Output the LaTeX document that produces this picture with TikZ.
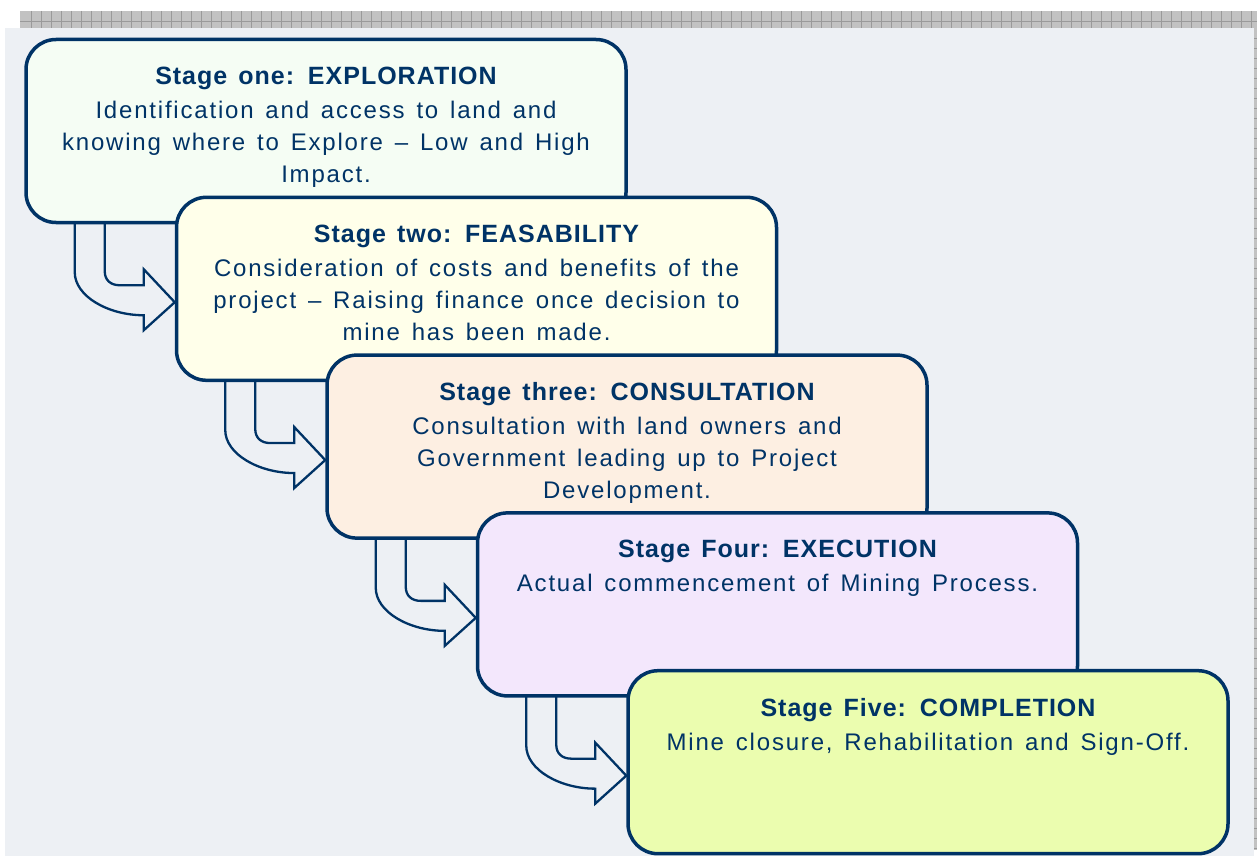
\documentclass[tikz,border=0pt]{standalone}
\usepackage{fontspec}
\setmainfont[LetterSpace=7.5,WordSpace=1.4]{Liberation Sans}
\usetikzlibrary{calc}
\definecolor{navy}{HTML}{003366}
\definecolor{panelc}{HTML}{EDF0F4}
\definecolor{hatchc}{HTML}{C2C2C2}
\definecolor{hatchl}{HTML}{9A9A9A}
\definecolor{fillone}{HTML}{F5FDF4}
\definecolor{filltwo}{HTML}{FFFFEA}
\definecolor{fillthree}{HTML}{FDEFE2}
\definecolor{fillfour}{HTML}{F3E7FC}
\definecolor{fillfive}{HTML}{EBFDAF}
\pgfdeclarelayer{bg}
\pgfdeclarelayer{arrowlayer}
\pgfsetlayers{bg,arrowlayer,main}
\tikzset{
  stagebox/.style={draw=navy, line width=3.5pt, rounded corners=30pt,
    minimum width=600pt, minimum height=183pt, inner sep=0pt},
  stagetext/.style={text=navy, align=center, inner sep=0pt, anchor=north,
    font=\fontsize{24}{32}\selectfont},
  titlefont/.style={},
  bentarrow/.style={draw=navy, line width=2.3pt, fill=panelc, line join=miter},
  hatchline/.style={draw=hatchl, line width=0.8pt}
}
\newcommand\stagetitle[1]{{\addfontfeature{LetterSpace=4}\fontsize{25}{32}\selectfont\bfseries #1}}
\newcommand\stagearrow[2]{%
  \coordinate (#1tip) at ($(#1.south west)+(0,78)$);
  \draw[bentarrow]
    ($(#1.south west)+(50.5,-8)$)
    -- ($(#1.south west)+(50.5,48)$)
    .. controls ($(#1.south west)+(50.5,72)$) and ($(#1.south west)+(84,91)$) ..
    ($(#1.south west)+(119.5,91)$)
    -- ($(#1.south west)+(119.5,106)$)
    -- (#2.west |- #1tip)
    -- ($(#1.south west)+(119.5,45)$)
    -- ($(#1.south west)+(119.5,61)$)
    -- ($(#1.south west)+(95.5,61)$)
    .. controls ($(#1.south west)+(86.5,61)$) and ($(#1.south west)+(80.5,56)$) ..
    ($(#1.south west)+(80.5,47)$)
    -- ($(#1.south west)+(80.5,-8)$) -- cycle;
}
\begin{document}
\begin{tikzpicture}[x=1pt,y=-1pt]
\useasboundingbox (0,0) rectangle (1257,856);
\begin{pgfonlayer}{bg}
  \fill[white] (0,0) rectangle (1257,856);
  \fill[hatchc] (20,11) rectangle (1257,28);
  \fill[hatchc] (1250,28) rectangle (1257,850);
  \foreach \x in {31,41,...,1251} \draw[hatchline] (\x,11) -- (\x,28);
  \draw[hatchline] (20,21.5) -- (1257,21.5);
  \foreach \y in {38,48,...,848} \draw[hatchline] (1250,\y) -- (1257,\y);
  \fill[panelc] (5,28) rectangle (1254,856);
\end{pgfonlayer}

\node[stagebox, fill=fillone]   (s1) at (326,131) {};
\node[stagebox, fill=filltwo]   (s2) at (476.5,288.8) {};
\node[stagebox, fill=fillthree] (s3) at (627,446.6) {};
\node[stagebox, fill=fillfour]  (s4) at (777.5,604.4) {};
\node[stagebox, fill=fillfive]  (s5) at (928,762.2) {};

\node[stagetext] (t1) at ($(s1.north)+(0,29)$) {\stagetitle{Stage one: EXPLORATION}\\[2pt]
  Identification and access to land and\\
  knowing where to Explore -- Low and High\\
  Impact.};
\node[stagetext] (t2) at ($(s2.north)+(0,29)$) {\stagetitle{Stage two: FEASABILITY}\\[2pt]
  Consideration of costs and benefits of the\\
  project -- Raising finance once decision to\\
  mine has been made.};
\node[stagetext] (t3) at ($(s3.north)+(0,29)$) {\stagetitle{Stage three: CONSULTATION}\\[2pt]
  Consultation with land owners and\\
  Government leading up to Project\\
  Development.};
\node[stagetext] (t4) at ($(s4.north)+(0,29)$) {\stagetitle{Stage Four: EXECUTION}\\[2pt]
  Actual commencement of Mining Process.};
\node[stagetext] (t5) at ($(s5.north)+(0,29)$) {\stagetitle{Stage Five: COMPLETION}\\[2pt]
  Mine closure, Rehabilitation and Sign-Off.};

\begin{pgfonlayer}{arrowlayer}
  \stagearrow{s1}{s2}
  \stagearrow{s2}{s3}
  \stagearrow{s3}{s4}
  \stagearrow{s4}{s5}
\end{pgfonlayer}
\end{tikzpicture}
\end{document}
